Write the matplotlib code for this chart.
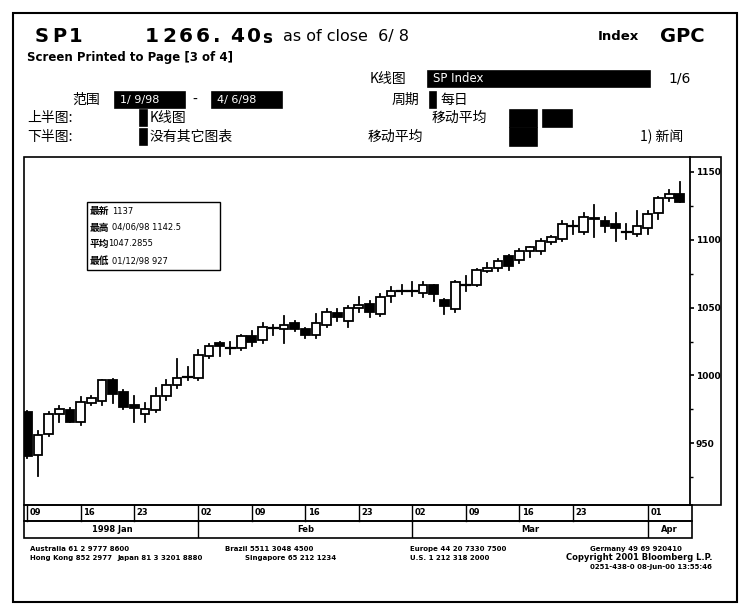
import matplotlib

matplotlib.use("Agg")
import matplotlib.pyplot as plt
from matplotlib.patches import Rectangle
import numpy as np
import pandas as pd

plt.rcParams["font.family"] = ["DejaVu Sans", "Noto Sans CJK SC"]
CJK = ["Noto Sans CJK SC", "DejaVu Sans"]

# daily bars, SP1 futures, weekdays 9 Jan 1998 - 6 Apr 1998
dates = pd.bdate_range("1998-01-09", "1998-04-06")
opens = [973, 941.5, 956.7, 971.5, 974.5, 965.6, 980, 981, 997, 988,
         978, 971.5, 974.4, 984.5, 992.6, 998.5, 998, 1014, 1024, 1020,
         1020, 1029, 1026, 1035, 1034.5, 1039, 1034.5, 1029.5, 1037.5, 1046,
         1040, 1050, 1053, 1045, 1058.5, 1062, 1062, 1061, 1066.5, 1055.5,
         1049, 1067, 1067, 1077, 1079, 1088, 1085, 1091.5, 1091.5, 1098.5,
         1100.5, 1110, 1106, 1116, 1114, 1111.5, 1105.5, 1104, 1109, 1119.5,
         1130.5, 1134]
highs = [974, 959, 973, 977.5, 976, 984, 985, 997, 997.5, 989,
         985, 980, 991, 997, 1012, 1006, 1019, 1023, 1025, 1024.5,
         1030, 1032.5, 1039, 1037.5, 1044, 1040, 1035, 1045, 1049, 1049,
         1051, 1057.5, 1054.5, 1060, 1065, 1067, 1068.5, 1068.5, 1067, 1056,
         1069.5, 1073, 1078.5, 1083, 1085.5, 1089, 1093, 1095, 1100.5, 1103,
         1113.5, 1113.5, 1119.5, 1125.5, 1117, 1120, 1111.5, 1121, 1121, 1131.5,
         1137, 1142.5]
lows = [939, 926, 955, 965.6, 966, 963.5, 978, 978, 980, 975,
        966, 966, 973, 982, 991, 997, 997, 1013, 1014, 1015.5,
        1019, 1022, 1024, 1030, 1024, 1033, 1027.5, 1027.5, 1036, 1040,
        1036, 1046.5, 1043, 1044, 1054, 1060, 1058.5, 1057.5, 1055, 1045,
        1046.5, 1062, 1066, 1076, 1077, 1078, 1083, 1087, 1089.5, 1097,
        1099, 1104, 1104, 1102, 1106, 1099, 1100.5, 1103, 1104, 1115,
        1128.5, 1127.5]
closes = [940.5, 956.3, 971.4, 975, 966, 980.3, 983, 997, 986, 976.6,
          976, 975, 984.5, 992.6, 998, 998.5, 1015, 1021.5, 1021.5, 1020,
          1029, 1024.5, 1035.5, 1035, 1037.5, 1034.5, 1030, 1039, 1046.5, 1043,
          1050, 1052, 1046.5, 1057.5, 1062, 1062, 1062, 1066.5, 1060, 1051,
          1068.5, 1067, 1077.5, 1079.5, 1084, 1080.5, 1091.5, 1094.5, 1099, 1102,
          1111.5, 1110, 1117, 1115, 1110, 1108.5, 1105.5, 1110.5, 1119, 1130.5,
          1134, 1127.5]

y_ticks = [950, 1000, 1050, 1100, 1150]
day_ticks = ["1998-01-09", "1998-01-16", "1998-01-23", "1998-02-02",
             "1998-02-09", "1998-02-16", "1998-02-23", "1998-03-02",
             "1998-03-09", "1998-03-16", "1998-03-23", "1998-04-01"]
months = ["1998 Jan", "Feb", "Mar", "Apr"]
month_starts = ["1998-01-09", "1998-02-02", "1998-03-02", "1998-04-01"]

info_rows = [("最新", "1137"), ("最高", "04/06/98 1142.5"),
             ("平均", "1047.2855"), ("最低", "01/12/98 927")]

footer1 = ["Australia 61 2 9777 8600", "Brazil 5511 3048 4500",
           "Europe 44 20 7330 7500", "Germany 49 69 920410"]
footer2 = ["Hong Kong 852 2977", "Japan 81 3 3201 8880",
           "Singapore 65 212 1234", "U.S. 1 212 318 2000"]

W, H = 750, 615
fig = plt.figure(figsize=(7.5, 6.15), dpi=100)

# page layer in pixel coordinates
bg = fig.add_axes([0, 0, 1, 1])
bg.set_xlim(0, W)
bg.set_ylim(H, 0)
bg.axis("off")


def box(x0, y0, x1, y1, fill=False, lw=1.2):
    bg.add_patch(Rectangle((x0, y0), x1 - x0, y1 - y0, lw=lw,
                           ec="black", fc="black" if fill else "none"))


def spaced(x0, y, s, step, **kw):
    # terminal font: fixed advance per character
    for k, ch in enumerate(s):
        bg.text(x0 + k * step, y, ch, va="center", **kw)


box(13, 13, 737, 602, lw=1.5)

spaced(35, 36, "SP1", 17, fontsize=14, fontweight="bold")
spaced(145, 36, "1266.40", 17, fontsize=14.5, fontweight="bold")
bg.text(262, 38, "s", fontsize=12, fontweight="bold", va="center")
bg.text(283, 37, "as of close  6/ 8", fontsize=11.5, va="center")
bg.text(598, 37, "Index", fontsize=9.5, fontweight="bold", va="center")
bg.text(660, 36, "GPC", fontsize=14, fontweight="bold", va="center")
bg.text(27, 57, "Screen Printed to Page [3 of 4]", fontsize=8.5,
        fontweight="bold", va="center")

# settings block
bg.text(370, 79, "K线图", fontsize=10, family=CJK, va="center")
box(428, 71, 650, 87, fill=True)
bg.text(433, 79, "SP Index", fontsize=8.5, color="white", va="center")
bg.text(668, 79, "1/6", fontsize=10, va="center")

bg.text(72, 100, "范围", fontsize=10, family=CJK, va="center")
box(115, 92, 185, 108, fill=True)
bg.text(120, 100, "1/ 9/98", fontsize=8, color="white", va="center")
bg.text(192, 100, "-", fontsize=10, va="center")
box(212, 92, 282, 108, fill=True)
bg.text(217, 100, "4/ 6/98", fontsize=8, color="white", va="center")
bg.text(392, 100, "周期", fontsize=10, family=CJK, va="center")
box(430, 92, 436, 108, fill=True)
bg.text(440, 100, "每日", fontsize=10, family=CJK, va="center")

bg.text(27, 118, "上半图:", fontsize=10, family=CJK, va="center")
box(140, 110, 147, 126, fill=True)
bg.text(150, 118, "K线图", fontsize=10, family=CJK, va="center")
bg.text(432, 118, "移动平均", fontsize=10, family=CJK, va="center")
box(510, 110, 537, 127, fill=True)
box(543, 110, 572, 127, fill=True)

bg.text(27, 137, "下半图:", fontsize=10, family=CJK, va="center")
box(140, 129, 147, 145, fill=True)
bg.text(150, 137, "没有其它图表", fontsize=10, family=CJK, va="center")
bg.text(368, 137, "移动平均", fontsize=10, family=CJK, va="center")
box(510, 128, 537, 146, fill=True)
bg.text(640, 137, "1) 新闻", fontsize=10, family=CJK, va="center")

# chart frame: plot area, right value column, date rows
PX0, PX1, PY0, PY1 = 24, 690, 157, 505
box(PX0, PY0, 721, PY1)
box(PX0, PY1, PX1 + 2, 521)
box(PX0, 521, PX1 + 2, 538)

ax = fig.add_axes([PX0 / W, 1 - PY1 / H, (PX1 - PX0) / W, (PY1 - PY0) / H])
n = len(dates)
x = np.arange(n)
ax.set_xlim(-0.3, 61.95)
ax.set_ylim(904.5, 1161)

bw = 0.82
for i in x:
    o, h, l, c = opens[i], highs[i], lows[i], closes[i]
    ax.plot([i, i], [l, h], color="black", lw=1.3, zorder=1)
    lo, hi = min(o, c), max(o, c)
    if hi - lo < 0.8:
        ax.plot([i - bw / 2, i + bw / 2], [o, o], color="black", lw=1.6, zorder=2)
        continue
    ax.add_patch(Rectangle((i - bw / 2, lo), bw, hi - lo, lw=1.3, ec="black",
                           fc="black" if c < o else "white", zorder=2))

ax.yaxis.tick_right()
ax.set_yticks(y_ticks)
ax.set_yticklabels([str(v) for v in y_ticks], fontsize=6.5, fontweight="bold")
ax.set_yticks(np.arange(925, 1160, 50), minor=True)
ax.tick_params(axis="y", which="major", direction="out", length=3, width=1.2, pad=1)
ax.tick_params(axis="y", which="minor", direction="out", length=2, width=1)
ax.set_xticks([])
for s in ax.spines.values():
    s.set_visible(False)
ax.spines["right"].set_visible(True)
ax.spines["right"].set_linewidth(1.3)
ax.patch.set_alpha(0)

# info box
box(87, 202, 220, 270, lw=1.0)
for k, (lab, val) in enumerate(info_rows):
    yy = 211 + k * 16.5
    bg.text(90, yy, lab, fontsize=7, family=CJK, fontweight="bold", va="center")
    bg.text(112 if k != 2 else 108, yy, val, fontsize=6, va="center")

# date rows, drawn through the chart's own x scale
dax = fig.add_axes([PX0 / W, 1 - 538 / H, (PX1 - PX0) / W, (538 - PY1) / H])
dax.set_xlim(ax.get_xlim())
dax.set_ylim(2, 0)
dax.axis("off")
for d in day_ticks:
    i = dates.get_loc(pd.Timestamp(d))
    dax.plot([i, i], [0, 0.94], color="black", lw=1.0)
    dax.text(i + 0.25, 0.47, d[-2:], fontsize=6, fontweight="bold", va="center")
starts = [dates.get_loc(pd.Timestamp(d)) for d in month_starts] + [61.95]
for k, name in enumerate(months):
    if k > 0:
        dax.plot([starts[k], starts[k]], [1, 2], color="black", lw=1.0)
    dax.text((starts[k] + starts[k + 1]) / 2, 1.5, name, fontsize=6,
             fontweight="bold", ha="center", va="center")

# footer
for k, t in enumerate(footer1):
    bg.text([30, 225, 410, 590][k], 549, t, fontsize=5, fontweight="bold", va="center")
for k, t in enumerate(footer2):
    bg.text([30, 117, 245, 410][k], 558, t, fontsize=5, fontweight="bold", va="center")
bg.text(712, 558, "Copyright 2001 Bloomberg L.P.", fontsize=6, fontweight="bold",
        ha="right", va="center")
bg.text(712, 567, "0251-438-0 08-Jun-00 13:55:46", fontsize=5, fontweight="bold",
        ha="right", va="center")

fig.savefig("out.png", dpi=100)
